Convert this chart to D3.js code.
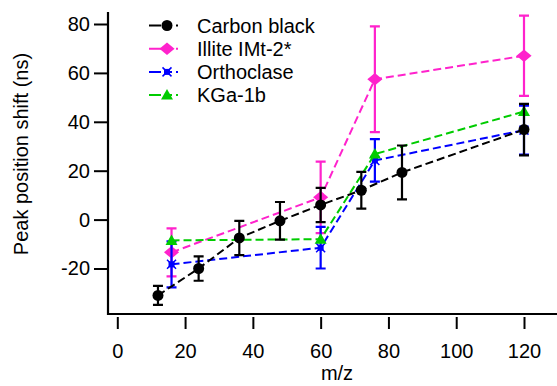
<!DOCTYPE html>
<html>
<head>
<meta charset="utf-8">
<script src="https://cdn.jsdelivr.net/npm/d3@7"></script>
<style>
  body { margin: 0; background: #fff; }
  svg text { font-family: "Liberation Sans", Arial, sans-serif; fill: #000; }
</style>
</head>
<body>
<svg id="svg_chart" width="557" height="386"></svg>
<script>

// data
const legendOrder = ['Carbon black', 'Illite IMt-2*', 'Orthoclase', 'KGa-1b'];

const carbonMz  = [12, 24, 36, 48, 60, 72, 84, 120];
const carbonVal = [-31, -20, -7.5, -0.5, 6, 12, 19.3, 36.8];
const carbonErr = [3.9, 5, 7, 7.7, 7, 7.5, 11, 10.5];

const illiteMz  = [16, 60, 76, 120];
const illiteVal = [-13.4, 9.1, 57.4, 67];
const illiteErr = [9.8, 14.6, 21.6, 16.4];

const orthoMz  = [16, 60, 76, 120];
const orthoVal = [-18.3, -11.5, 24.2, 36.6];
const orthoErr = [9.4, 8.5, 8.7, 10];

const kgaMz  = [16, 60, 76, 120];
const kgaVal = [-8.5, -8, 26.8, 44.2];

const xTicks = [0, 20, 40, 60, 80, 100, 120];
const yTicks = [-20, 0, 20, 40, 60, 80];

const c1 = '#000000', c2 = '#ff22cc', c3 = '#0000ff', c4 = '#00cc00';

function chart(_svg) {

  const svg = d3.select(`#svg_${_svg}`);

  // draw order: illite, orthoclase, kga, carbon on top
  const series = [
    { name: 'Illite IMt-2*', color: c2, shape: 'diamond', mz: illiteMz, val: illiteVal, err: illiteErr },
    { name: 'Orthoclase', color: c3, shape: 'cross', mz: orthoMz, val: orthoVal, err: orthoErr },
    { name: 'KGa-1b', color: c4, shape: 'triangle', mz: kgaMz, val: kgaVal, err: null },
    { name: 'Carbon black', color: c1, shape: 'circle', mz: carbonMz, val: carbonVal, err: carbonErr }
  ];
  series.forEach(s => {
    s.points = s.mz.map((m, i) => ({ mz: m, val: s.val[i], err: s.err ? s.err[i] : 0 }));
  });

  // scales
  const x = d3.scaleLinear().domain([0, 120]).range([117.3, 524]);
  const y = d3.scaleLinear().domain([-20, 80]).range([268.5, 24]);

  const axisLeft = 108, axisBottom = 314;

  // axes (plain hyphen minus like the original)
  const yAxis = d3.axisLeft(y).tickValues(yTicks).tickFormat(d => String(d))
    .tickSize(14).tickPadding(4).tickSizeOuter(0);
  const gy = svg.append('g')
    .attr('transform', `translate(${axisLeft},0)`)
    .call(yAxis);
  gy.select('.domain').remove();
  gy.selectAll('.tick line').attr('stroke', '#000').attr('stroke-width', 2);
  gy.selectAll('.tick text').style('font-size', '20px');

  const xAxis = d3.axisBottom(x).tickValues(xTicks).tickFormat(d => String(d))
    .tickSize(12).tickPadding(15).tickSizeOuter(0);
  const gx = svg.append('g')
    .attr('transform', `translate(0,${axisBottom + 3})`)
    .call(xAxis);
  gx.select('.domain').remove();
  gx.selectAll('.tick line').attr('stroke', '#000').attr('stroke-width', 2);
  gx.selectAll('.tick text').style('font-size', '20px');

  // frame lines
  svg.append('path')
    .attr('d', `M${axisLeft},12V${axisBottom}H557`)
    .attr('fill', 'none')
    .attr('stroke', '#000')
    .attr('stroke-width', 2.2);

  // axis titles
  svg.append('text')
    .attr('transform', `translate(28,154) rotate(-90)`)
    .attr('text-anchor', 'middle')
    .style('font-size', '20px')
    .text('Peak position shift (ns)');

  svg.append('text')
    .attr('x', 337)
    .attr('y', 380)
    .attr('text-anchor', 'middle')
    .style('font-size', '20px')
    .text('m/z');

  const line = d3.line()
    .x(d => x(d.mz))
    .y(d => y(d.val));

  function marker(sel, shape, color) {
    if (shape === 'circle') {
      sel.append('circle').attr('r', 5.5).attr('fill', color);
    } else if (shape === 'diamond') {
      sel.append('path').attr('d', d3.symbol(d3.symbolDiamond2, 110)()).attr('fill', color).attr('transform', 'scale(1.15,0.95)');
    } else if (shape === 'triangle') {
      sel.append('path').attr('d', 'M0,-6L6,4.5H-6Z').attr('fill', color);
    } else {
      sel.append('rect').attr('x', -3).attr('y', -3).attr('width', 6).attr('height', 6).attr('fill', color);
      sel.append('path').attr('d', 'M-4.5,-4.5L4.5,4.5M-4.5,4.5L4.5,-4.5').attr('stroke', color).attr('stroke-width', 1.5);
    }
  }

  // data layers
  const layers = svg.selectAll('.series').data(series)
    .join('g')
    .attr('class', 'series');

  layers.append('path')
    .attr('d', d => line(d.points))
    .attr('fill', 'none')
    .attr('stroke', d => d.color)
    .attr('stroke-width', 2)
    .attr('stroke-dasharray', '8,4');

  layers.each(function(s) {
    const g = d3.select(this);
    if (s.err) {
      g.selectAll('.err').data(s.points)
        .join('path')
        .attr('class', 'err')
        .attr('d', d => {
          const cx = x(d.mz), t = y(d.val + d.err), b = y(d.val - d.err);
          return `M${cx},${t}V${b}M${cx - 5},${t}H${cx + 5}M${cx - 5},${b}H${cx + 5}`;
        })
        .attr('fill', 'none')
        .attr('stroke', s.color)
        .attr('stroke-width', 2.2);
    }
    g.selectAll('.pt').data(s.points)
      .join('g')
      .attr('class', 'pt')
      .attr('transform', d => `translate(${x(d.mz)},${y(d.val)})`)
      .each(function() { marker(d3.select(this), s.shape, s.color); });
  });

  // legend
  const legend = svg.selectAll('.legend').data(legendOrder.map(n => series.find(s => s.name === n)))
    .join('g')
    .attr('class', 'legend')
    .attr('transform', (d, i) => `translate(149,${25.5 + i * 23.2})`);

  legend.append('path')
    .attr('d', 'M0,0H44')
    .attr('stroke', d => d.color)
    .attr('stroke-width', 2)
    .attr('stroke-dasharray', '12,6,5,4,2,20');

  legend.append('g')
    .attr('transform', 'translate(18,0)')
    .each(function(d) { marker(d3.select(this), d.shape, d.color); });

  legend.append('text')
    .attr('x', 48)
    .attr('y', 7)
    .style('font-size', '20px')
    .text(d => d.name);
}

chart('chart');
</script>
</body>
</html>
